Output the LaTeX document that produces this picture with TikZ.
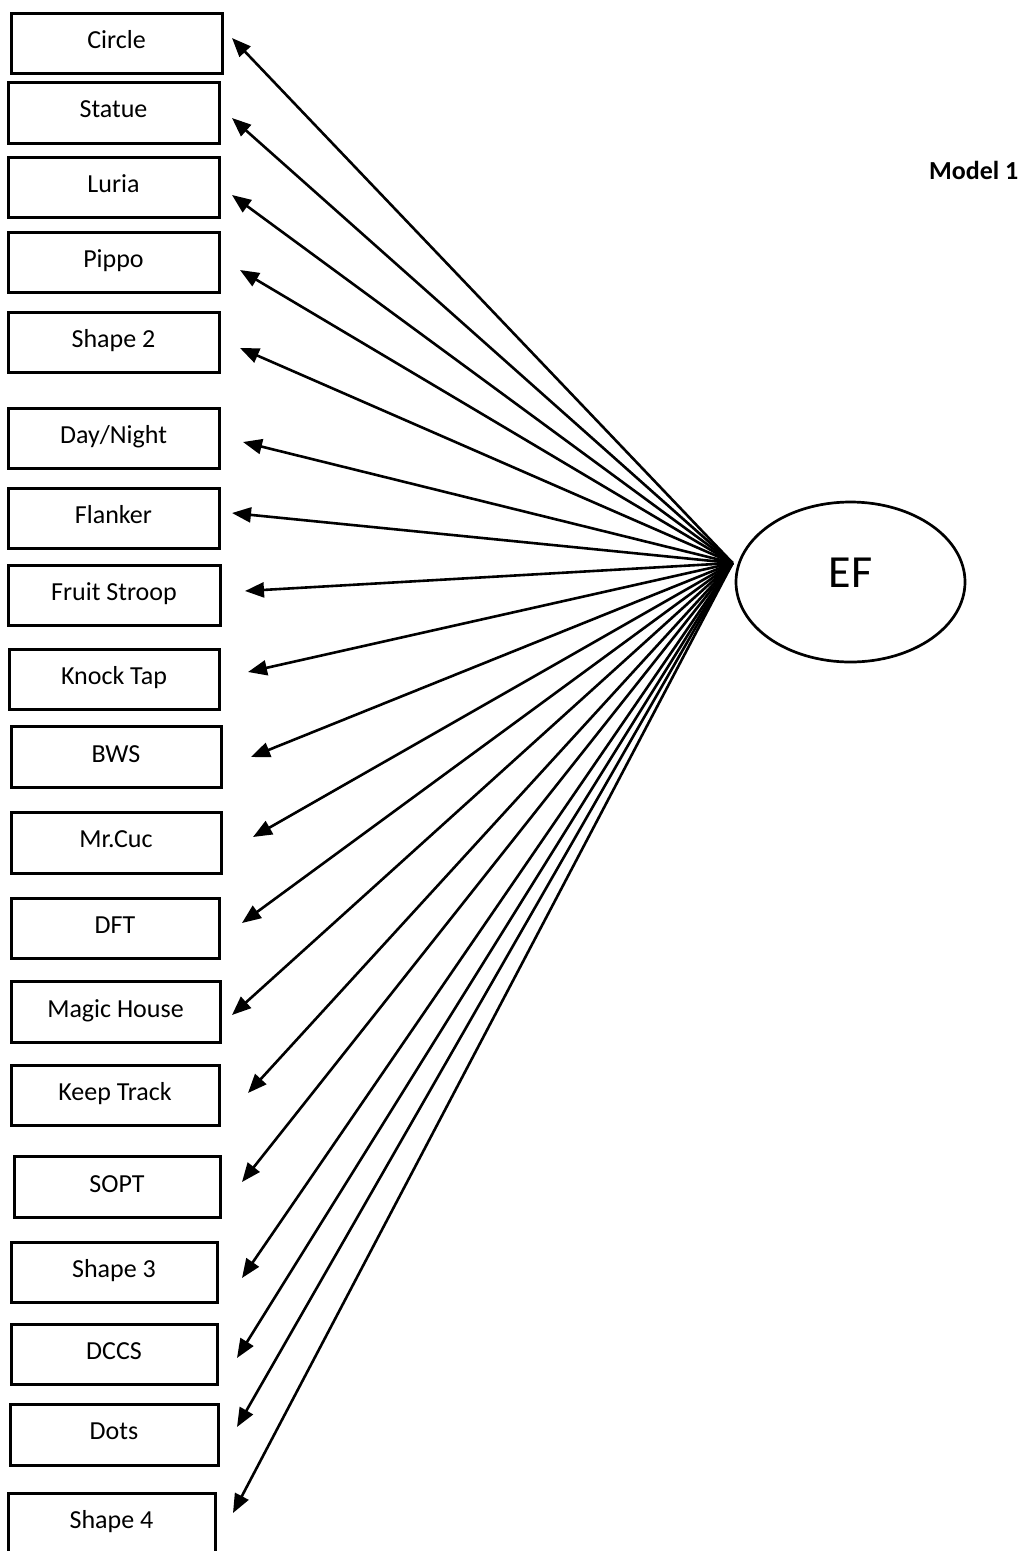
\documentclass[tikz,border=0pt]{standalone}
\usepackage{fontspec}
\setmainfont{Carlito}
\usetikzlibrary{arrows.meta,shapes.geometric,calc}

\tikzset{
  taskbox/.style={draw, line width=3pt, rectangle, inner sep=0pt,
    text height=16pt, text depth=6pt,
    font=\fontsize{26}{31}\selectfont},
  factor/.style={draw, line width=2.7pt, ellipse, inner sep=0pt,
    text height=30pt, text depth=20pt,
    font=\fontsize{46}{55}\selectfont},
  loading/.style={line width=2.6pt, -{Triangle[length=19pt,width=15pt]}},
  caption/.style={inner sep=0pt, anchor=base west,
    font=\fontsize{26}{31}\selectfont\bfseries}
}

\begin{document}
\begin{tikzpicture}[x=1pt, y=-1pt]
  \clip (0,0) rectangle (1025,1551);
  \fill[white] (0,0) rectangle (1025,1551);

  % latent factor
  \node[factor, minimum width=229pt, minimum height=160pt] (ef) at (850.5,582) {EF};
  \coordinate (hub) at ($(ef.west)+(-2,-19)$);

  \node[caption] (model) at (929,179) {Model 1};

  % observed tasks: name / centre x / centre y / width / height / label / arrow tip
  \foreach \n/\cx/\cy/\w/\h/\t/\tx/\ty in {
    circle/116.5/43/211/60/{Circle}/232/38,
    statue/113.5/112.5/211/61/{Statue}/232/118,
    luria/113.5/187/211/60/{Luria}/232/195,
    pippo/113.5/262/211/60/{Pippo}/240/270,
    shapetwo/113.5/342/211/60/{Shape 2}/240/348,
    daynight/113.5/438/211/60/{Day/Night}/243/442,
    flanker/113.5/518/211/60/{Flanker}/232/513,
    fruit/114/595/212/60/{Fruit Stroop}/245/591,
    knock/114/679/210/60/{Knock Tap}/248/672,
    bws/116/757/210/61/{BWS}/251/757,
    mrcuc/116/842.5/210/61/{Mr.Cuc}/253/837,
    dft/115/928/208/60/{DFT}/242/923,
    magic/115.5/1012/209/61/{Magic House}/232/1015,
    keep/115/1095/208/60/{Keep Track}/248/1093,
    sopt/117/1187/206/61/{SOPT}/242/1182,
    shapethree/114/1272/206/60/{Shape 3}/242/1278,
    dccs/114/1354/206/60/{DCCS}/237/1358,
    dots/114/1434.5/208/61/{Dots}/237/1427,
    shapefour/111.5/1523/207/60/{Shape 4}/233/1513%
  }{
    \node[taskbox, minimum width=\w pt, minimum height=\h pt] (\n) at (\cx,\cy) {\t};
    \coordinate (\n-tip) at (\tx,\ty);
    \draw[loading] (hub) -- (\n-tip);
  }
\end{tikzpicture}
\end{document}
